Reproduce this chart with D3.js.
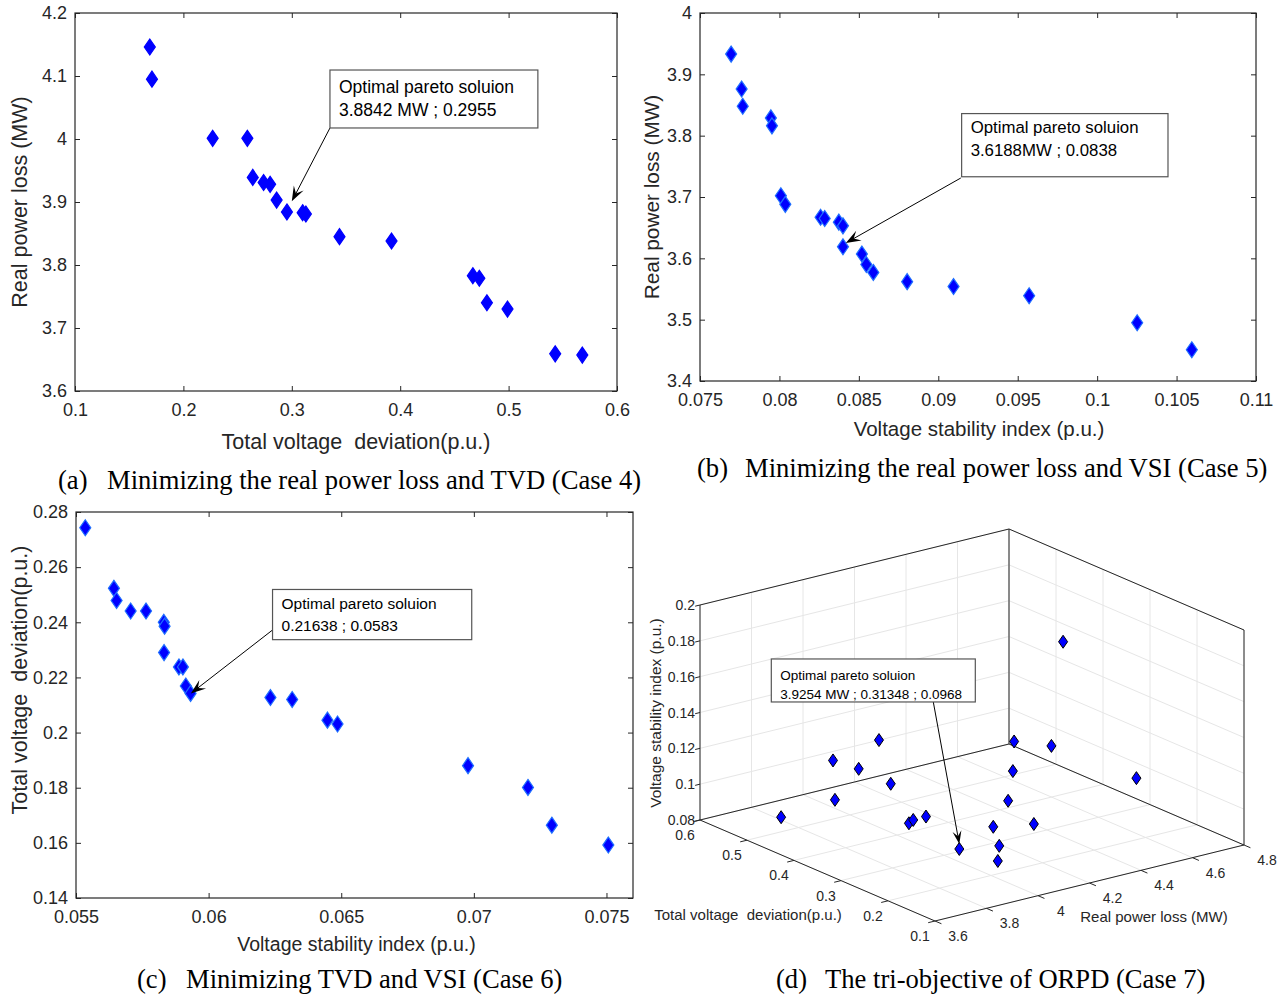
<!DOCTYPE html>
<html><head><meta charset="utf-8">
<script src="https://cdn.jsdelivr.net/npm/d3@7"></script>
<style>
body{margin:0;background:#fff}
text{font-family:"Liberation Sans",Arial,sans-serif;fill:#262626;white-space:pre}
.cap{font-family:"Liberation Serif","Times New Roman",serif;fill:#000}
</style></head><body>
<svg id="fig" width="1288" height="996"></svg>
<script>
// (a) Case 4 : loss vs TVD
var aTVD  = [0.169,0.171,0.227,0.259,0.264,0.274,0.280,0.286,0.2955,0.310,0.313,0.344,0.392,0.467,0.473,0.480,0.499,0.543,0.568];
var aLoss = [4.146,4.095,4.001,4.001,3.939,3.931,3.928,3.903,3.8842,3.883,3.881,3.845,3.838,3.783,3.779,3.740,3.730,3.659,3.657];
var aXTicks = [0.1,0.2,0.3,0.4,0.5,0.6];
var aYTicks = [3.6,3.7,3.8,3.9,4,4.1,4.2];

// (b) Case 5 : loss vs VSI
var bVSI  = [0.07696,0.07762,0.07769,0.07946,0.07953,0.08009,0.08037,0.08259,0.08285,0.08374,0.08400,0.0840,0.08519,0.08547,0.08591,0.08804,0.09096,0.09572,0.10252,0.10596];
var bLoss = [3.933,3.876,3.848,3.829,3.816,3.702,3.688,3.667,3.665,3.659,3.653,3.6188,3.607,3.590,3.577,3.562,3.554,3.539,3.495,3.451];
var bXTicks = [0.075,0.08,0.085,0.09,0.095,0.1,0.105,0.11];
var bYTicks = [3.4,3.5,3.6,3.7,3.8,3.9,4];

// (c) Case 6 : TVD vs VSI
var cVSI = [0.05535,0.05643,0.05653,0.05706,0.05764,0.05831,0.05834,0.05832,0.05888,0.05903,0.05914,0.05932,0.06233,0.06315,0.06448,0.06486,0.06978,0.07204,0.07294,0.07507];
var cTVD = [0.2743,0.2523,0.2479,0.2441,0.2441,0.2400,0.2386,0.2290,0.2238,0.2238,0.2169,0.2142,0.2127,0.2120,0.2045,0.2031,0.1880,0.1801,0.1664,0.1592];
var cXTicks = [0.055,0.06,0.065,0.07,0.075];
var cYTicks = [0.14,0.16,0.18,0.2,0.22,0.24,0.26,0.28];

// (d) Case 7 : tri-objective
var dLoss = [3.769,3.861,3.905,3.906,3.930,3.921,3.955,3.990,4.003,3.901,4.100,4.032,3.990,4.249,4.450,4.546,4.203,4.691,4.656,4.645];
var dTVD  = [0.52,0.46,0.48,0.43,0.40,0.37,0.35,0.36,0.34,0.2132,0.25,0.20,0.18,0.30,0.40,0.45,0.22,0.45,0.25,0.40];
var dVSI  = [0.0846,0.1198,0.0940,0.1169,0.1355,0.1148,0.0938,0.0933,0.0970,0.0968,0.0980,0.0954,0.0907,0.1016,0.0998,0.1073,0.0993,0.0997,0.1055,0.1651];
var dLossTicks = [3.6,3.8,4,4.2,4.4,4.6,4.8];
var dTVDTicks  = [0.1,0.2,0.3,0.4,0.5,0.6];
var dVSITicks  = [0.08,0.1,0.12,0.14,0.16,0.18,0.2];

var svg = d3.select('#fig');
var fmt = function(d){ return String(+d.toFixed(4)); };

function diamond(hw, hh){
  return 'M0,' + (-hh) + 'L' + hw + ',0L0,' + hh + 'L' + (-hw) + ',0Z';
}

// matlab-ish arrow with swept-back head
function arrow(g, x1, y1, x2, y2, L, W){
  var ang = Math.atan2(y2 - y1, x2 - x1);
  g.append('line').attr('x1', x1).attr('y1', y1)
    .attr('x2', x2 - Math.cos(ang) * L * 0.5).attr('y2', y2 - Math.sin(ang) * L * 0.5)
    .style('stroke', '#000').style('stroke-width', 1);
  var pts = [[0,0],[-L, W/2],[-L*0.6,0],[-L,-W/2]].map(function(p){
    return [x2 + p[0]*Math.cos(ang) - p[1]*Math.sin(ang), y2 + p[0]*Math.sin(ang) + p[1]*Math.cos(ang)];
  });
  g.append('path').attr('d', 'M' + pts.join('L') + 'Z').style('fill', '#000');
}

function panel(cfg){
  var g = svg.append('g').attr('transform', 'translate(' + cfg.left + ',' + cfg.top + ')');
  var x = d3.scaleLinear().domain(cfg.xDomain).range([0, cfg.w]);
  var y = d3.scaleLinear().domain(cfg.yDomain).range([cfg.h, 0]);

  var xb = g.append('g').attr('transform', 'translate(0,' + cfg.h + ')')
    .call(d3.axisBottom(x).tickValues(cfg.xTicks).tickSize(-5).tickPadding(12).tickFormat(fmt));
  var yl = g.append('g')
    .call(d3.axisLeft(y).tickValues(cfg.yTicks).tickSize(-5).tickPadding(8).tickFormat(fmt));
  var xt = g.append('g').call(d3.axisTop(x).tickValues(cfg.xTicks).tickSize(-5).tickFormat(''));
  var yr = g.append('g').attr('transform', 'translate(' + cfg.w + ',0)')
    .call(d3.axisRight(y).tickValues(cfg.yTicks).tickSize(-5).tickFormat(''));
  [xb, yl, xt, yr].forEach(function(a){
    a.select('.domain').remove();
    a.selectAll('line').style('stroke', '#262626');
    a.selectAll('text').style('font-size', '18px').style('fill', '#262626')
      .style('font-family', '"Liberation Sans",Arial,sans-serif');
  });
  g.append('rect').attr('width', cfg.w).attr('height', cfg.h)
    .style('fill', 'none').style('stroke', '#262626').style('stroke-width', 1.2);

  g.selectAll('path.pt').data(cfg.xs).enter().append('path')
    .attr('class', 'pt')
    .attr('d', diamond(5.5, 8))
    .attr('transform', function(d, i){ return 'translate(' + x(d) + ',' + y(cfg.ys[i]) + ')'; })
    .style('fill', '#0000ff').style('stroke', cfg.edge).style('stroke-width', 1.2);

  // axis titles
  g.append('text').attr('x', cfg.w / 2 + cfg.xlShift).attr('y', cfg.h + cfg.xlOff)
    .attr('text-anchor', 'middle').style('font-size', cfg.xlSize + 'px').text(cfg.xLabel);
  g.append('text').attr('transform', 'translate(' + (-cfg.ylOff) + ',' + cfg.ylMid + ') rotate(-90)')
    .attr('text-anchor', 'middle').style('font-size', cfg.ylSize + 'px').text(cfg.yLabel);

  // annotation
  var n = cfg.note;
  var bx = x(n.box[0]), by = y(n.box[1]), bw = x(n.box[2]) - bx, bh = y(n.box[3]) - by;
  arrow(g, x(n.from[0]), y(n.from[1]), x(n.to[0]), y(n.to[1]), 15, 11);
  g.append('rect').attr('x', bx).attr('y', by).attr('width', bw).attr('height', bh)
    .style('fill', '#fff').style('stroke', '#555').style('stroke-width', 1.2);
  n.lines.forEach(function(t, i){
    g.append('text').attr('x', bx + 9).attr('y', by + n.base[i])
      .style('font-size', n.fs + 'px').style('fill', '#000').text(t);
  });
}

panel({left: 75, top: 13, w: 542, h: 378,
  xDomain: [0.1, 0.6], yDomain: [3.6, 4.2], xTicks: aXTicks, yTicks: aYTicks,
  xs: aTVD, ys: aLoss, edge: '#0000ff',
  xLabel: 'Total voltage  deviation(p.u.)', yLabel: 'Real power loss (MW)',
  xlOff: 58, xlShift: 10, xlSize: 21.5, ylOff: 48.5, ylMid: 189, ylSize: 21.5,
  note: {box: [0.3352, 4.1095, 0.527, 4.0175], from: [0.3352, 4.0175], to: [0.300, 3.901],
    lines: ['Optimal pareto soluion', '3.8842 MW ; 0.2955'], base: [23, 46], fs: 17.5}});

panel({left: 700, top: 13, w: 556, h: 368,
  xDomain: [0.075, 0.11], yDomain: [3.4, 4], xTicks: bXTicks, yTicks: bYTicks,
  xs: bVSI, ys: bLoss, edge: '#1f6fff',
  xLabel: 'Voltage stability index (p.u.)', yLabel: 'Real power loss (MW)',
  xlOff: 55, xlShift: 1, xlSize: 20.5, ylOff: 41, ylMid: 184, ylSize: 20.8,
  note: {box: [0.09147, 3.836, 0.10446, 3.733], from: [0.09142, 3.731], to: [0.08418, 3.625],
    lines: ['Optimal pareto soluion', '3.6188MW ; 0.0838'], base: [19, 42], fs: 16.8}});

panel({left: 76, top: 512, w: 557, h: 386,
  xDomain: [0.055, 0.076], yDomain: [0.14, 0.28], xTicks: cXTicks, yTicks: cYTicks,
  xs: cVSI, ys: cTVD, edge: '#1f6fff',
  xLabel: 'Voltage stability index (p.u.)', yLabel: 'Total voltage  deviation(p.u.)',
  xlOff: 53, xlShift: 2, xlSize: 19.5, ylOff: 49.5, ylMid: 168, ylSize: 21.5,
  note: {box: [0.06241, 0.2519, 0.06992, 0.2337], from: [0.06245, 0.2375], to: [0.05933, 0.2142],
    lines: ['Optimal pareto soluion', '0.21638 ; 0.0583'], base: [20, 42], fs: 15.5}});

// ---------- (d) 3-D scatter ----------
var g3 = svg.append('g');
var sL = d3.scaleLinear().domain([3.6, 4.8]).range([0, 1]);
var sT = d3.scaleLinear().domain([0.1, 0.6]).range([0, 1]);
var sV = d3.scaleLinear().domain([0.08, 0.2]).range([0, 1]);
var O = [935, 921], EX = [309, -76], EY = [-235, -101], EZ = [0, -215];
function proj(l, t, v){
  var a = sL(l), b = sT(t), c = sV(v);
  return [O[0] + a*EX[0] + b*EY[0] + c*EZ[0], O[1] + a*EX[1] + b*EY[1] + c*EZ[1]];
}
function seg(p, q, col, w){
  g3.append('line').attr('x1', p[0]).attr('y1', p[1]).attr('x2', q[0]).attr('y2', q[1])
    .style('stroke', col).style('stroke-width', w);
}
var L0 = 3.6, L1 = 4.8, T0 = 0.1, T1 = 0.6, V0 = 0.08, V1 = 0.2;
var grid = '#e6e6e6';
dLossTicks.forEach(function(l){
  seg(proj(l, T0, V0), proj(l, T1, V0), grid, 1);
  seg(proj(l, T1, V0), proj(l, T1, V1), grid, 1);
});
dTVDTicks.forEach(function(t){
  seg(proj(L0, t, V0), proj(L1, t, V0), grid, 1);
  seg(proj(L1, t, V0), proj(L1, t, V1), grid, 1);
});
dVSITicks.forEach(function(v){
  seg(proj(L0, T1, v), proj(L1, T1, v), grid, 1);
  seg(proj(L1, T1, v), proj(L1, T0, v), grid, 1);
});
var ec = '#262626';
seg(proj(L0, T1, V0), proj(L0, T1, V1), ec, 1);
seg(proj(L0, T1, V1), proj(L1, T1, V1), ec, 1);
seg(proj(L1, T1, V0), proj(L1, T1, V1), ec, 1);
seg(proj(L1, T1, V1), proj(L1, T0, V1), ec, 1);
seg(proj(L1, T0, V0), proj(L1, T0, V1), ec, 1);
seg(proj(L0, T1, V0), proj(L1, T1, V0), ec, 1);
seg(proj(L1, T1, V0), proj(L1, T0, V0), ec, 1);
seg(proj(L0, T1, V0), proj(L0, T0, V0), ec, 1);
seg(proj(L0, T0, V0), proj(L1, T0, V0), ec, 1);

// ticks + labels
var ux = [-EX[0] / Math.hypot(EX[0], EX[1]), -EX[1] / Math.hypot(EX[0], EX[1])];
var uy = [-EY[0] / Math.hypot(EY[0], EY[1]), -EY[1] / Math.hypot(EY[0], EY[1])];
dVSITicks.forEach(function(v){
  var p = proj(L0, T1, v);
  seg(p, [p[0] + ux[0]*5, p[1] + ux[1]*5], ec, 1);
  g3.append('text').attr('x', p[0] - 5).attr('y', p[1] + 5).attr('text-anchor', 'end')
    .style('font-size', '14px').text(fmt(v));
});
dTVDTicks.forEach(function(t){
  var p = proj(L0, t, V0);
  seg(p, [p[0] + ux[0]*7, p[1] + ux[1]*7], ec, 1);
  g3.append('text').attr('x', p[0] - 15).attr('y', p[1] + 20).attr('text-anchor', 'middle')
    .style('font-size', '14px').text(fmt(t));
});
dLossTicks.forEach(function(l){
  var p = proj(l, T0, V0);
  seg(p, [p[0] + uy[0]*7, p[1] + uy[1]*7], ec, 1);
  g3.append('text').attr('x', p[0] + 23).attr('y', p[1] + 20).attr('text-anchor', 'middle')
    .style('font-size', '14px').text(fmt(l));
});
g3.append('text').attr('transform', 'translate(661,713) rotate(-90)').attr('text-anchor', 'middle')
  .style('font-size', '15.5px').text('Voltage stability index (p.u.)');
g3.append('text').attr('x', 748).attr('y', 920).attr('text-anchor', 'middle')
  .style('font-size', '15px').text('Total voltage  deviation(p.u.)');
g3.append('text').attr('x', 1154).attr('y', 922).attr('text-anchor', 'middle')
  .style('font-size', '15px').text('Real power loss (MW)');

g3.selectAll('path.pt').data(dLoss).enter().append('path')
  .attr('class', 'pt').attr('d', diamond(4.5, 6.5))
  .attr('transform', function(d, i){ var p = proj(d, dTVD[i], dVSI[i]); return 'translate(' + p[0] + ',' + p[1] + ')'; })
  .style('fill', '#0000ff').style('stroke', '#000').style('stroke-width', 1);

var tip = proj(dLoss[9], dTVD[9], dVSI[9]);
arrow(g3, tip[0] - 26, tip[1] - 147, tip[0], tip[1] - 5, 13, 9);
g3.append('rect').attr('x', tip[0] - 188).attr('y', tip[1] - 190).attr('width', 204).attr('height', 43)
  .style('fill', '#fff').style('stroke', '#555').style('stroke-width', 1.2);
g3.append('text').attr('x', tip[0] - 179).attr('y', tip[1] - 169).style('font-size', '13.5px').style('fill', '#000')
  .text('Optimal pareto soluion');
g3.append('text').attr('x', tip[0] - 179).attr('y', tip[1] - 150).style('font-size', '13.5px').style('fill', '#000')
  .text('3.9254 MW ; 0.31348 ; 0.0968');

// captions
var caps = [
  {x: 58, x2: 107, y: 489, a: '(a)', t: 'Minimizing the real power loss and TVD (Case 4)'},
  {x: 697, x2: 745, y: 477, a: '(b)', t: 'Minimizing the real power loss and VSI (Case 5)'},
  {x: 137, x2: 186, y: 988, a: '(c)', t: 'Minimizing TVD and VSI (Case 6)'},
  {x: 776, x2: 825, y: 988, a: '(d)', t: 'The tri-objective of ORPD (Case 7)'}
];
caps.forEach(function(c){
  svg.append('text').attr('class', 'cap').attr('x', c.x).attr('y', c.y).style('font-size', '26.6px').text(c.a);
  svg.append('text').attr('class', 'cap').attr('x', c.x2).attr('y', c.y).style('font-size', '26.6px').text(c.t);
});
</script>
</body></html>
